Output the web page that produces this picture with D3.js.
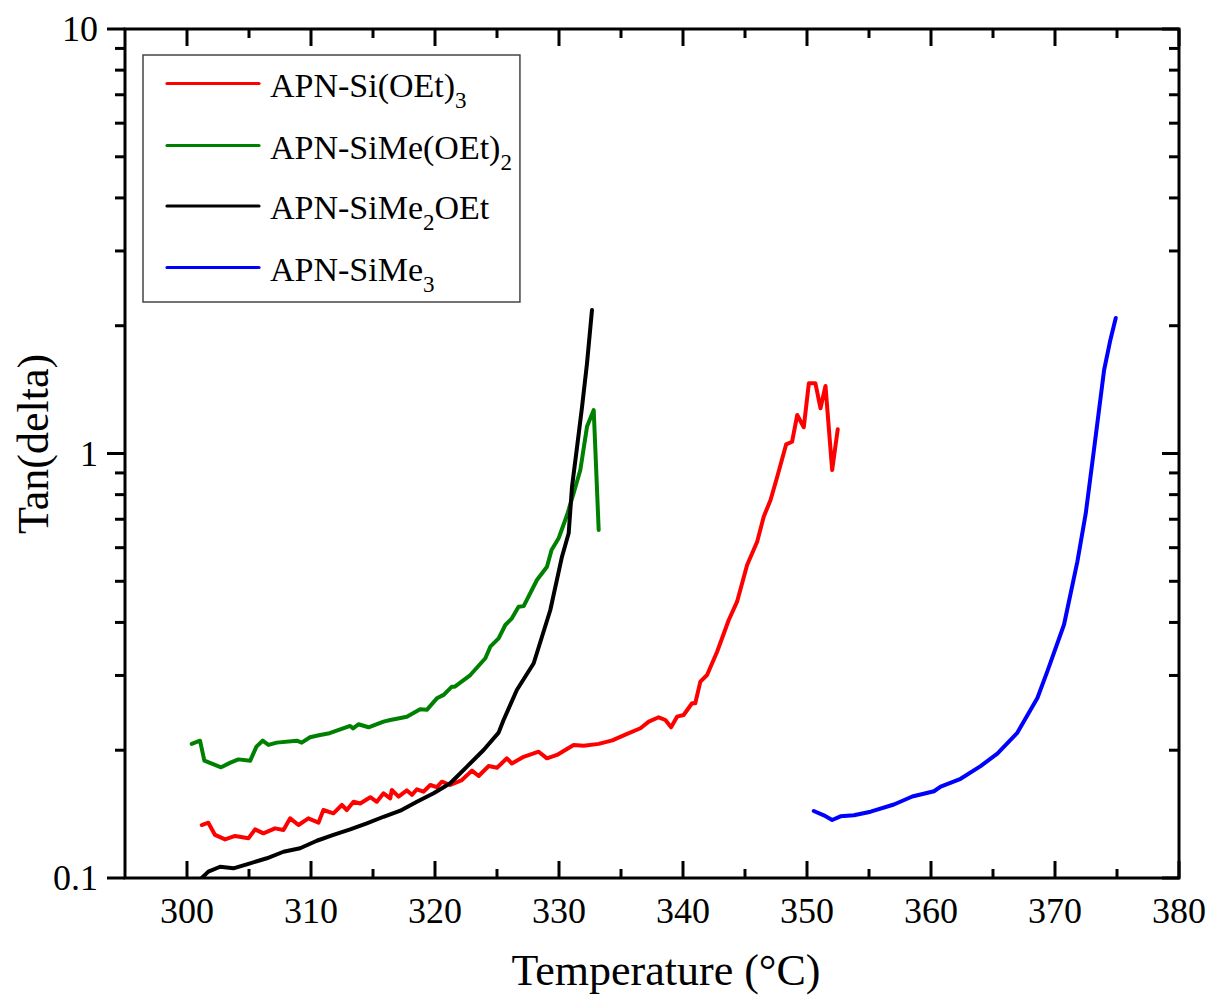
<!DOCTYPE html>
<html><head><meta charset="utf-8">
<script src="https://cdn.jsdelivr.net/npm/d3@7"></script>
<style>body{margin:0;background:#fff}svg{display:block}text{font-family:"Liberation Serif","Times New Roman",serif;fill:#000}</style>
</head><body><svg id="c" width="1211" height="1000"></svg>
<script>
// ---- data ----
const xTicks = [300,310,320,330,340,350,360,370,380];
const xMinor = [305,315,325,335,345,355,365,375];
const yTicks = [0.1,1,10];
const yTickLabels = ["0.1","1","10"];
const xTitle = "Temperature (°C)";
const yTitle = "Tan(delta)";
const seriesColors = ["#ff0000","#008000","#000000","#0000ff"];
const legendParts = [
  [["APN-Si(OEt)",0],["3",1]],
  [["APN-SiMe(OEt)",0],["2",1]],
  [["APN-SiMe",0],["2",1],["OEt",0]],
  [["APN-SiMe",0],["3",1]]
];
const redT = [301.19,301.72,302.26,303.07,303.88,304.95,305.49,306.16,307.1,307.78,308.32,308.99,309.79,310.6,311.0,311.81,312.49,312.89,313.43,313.97,314.78,315.31,315.85,316.39,316.52,317.06,317.73,318.14,318.54,319.08,319.62,320.15,320.56,321.23,322.17,322.98,323.52,324.33,325.0,325.8,326.2,327.15,328.36,329.03,329.84,331.18,331.99,333.2,334.3,335.4,336.57,337.24,338.04,338.58,339.04,339.52,340.05,340.73,340.99,341.4,341.94,342.75,343.69,344.36,345.17,345.98,346.51,347.06,347.6,348.32,348.8,349.21,349.74,350.15,350.68,351.09,351.49,352.03,352.48];
const redV = [0.1333,0.135,0.1263,0.1233,0.1256,0.124,0.1302,0.1274,0.1309,0.1297,0.1382,0.1333,0.1382,0.135,0.1446,0.142,0.1486,0.1446,0.1512,0.1498,0.155,0.1512,0.1583,0.1541,0.1612,0.1555,0.1608,0.157,0.1618,0.1597,0.1656,0.1637,0.1686,0.1656,0.1701,0.179,0.1739,0.1836,0.1819,0.1914,0.1861,0.193,0.1984,0.1914,0.1949,0.2058,0.205,0.207,0.211,0.218,0.2253,0.2335,0.2391,0.2356,0.2265,0.2399,0.2421,0.258,0.258,0.2901,0.3007,0.3413,0.4052,0.4477,0.5463,0.6198,0.7098,0.777,0.8817,1.051,1.066,1.232,1.153,1.463,1.463,1.278,1.442,0.9145,1.14];
const greenT = [300.38,301.05,301.4,302.75,303.5,304.15,305.1,305.6,306.1,306.57,307.24,308.85,309.25,309.92,310.73,311.5,313.16,313.4,313.83,314.64,315.85,316.4,317.73,318.8,319.34,320.15,320.7,321.36,321.6,322.85,324.06,324.46,325.13,325.67,326.2,326.74,327.15,328.22,329.03,329.4,329.97,330.65,331.18,331.72,332.26,332.8,333.2];
const greenV = [0.207,0.2106,0.189,0.1823,0.187,0.1903,0.189,0.2039,0.2106,0.2058,0.2084,0.2106,0.2084,0.2145,0.2172,0.2193,0.2281,0.2251,0.2302,0.2265,0.2335,0.2356,0.2399,0.2497,0.249,0.265,0.27,0.2823,0.2823,0.3007,0.3293,0.3507,0.367,0.3945,0.409,0.4355,0.437,0.5035,0.5412,0.5926,0.6316,0.7164,0.806,0.9145,1.157,1.266,0.6605];
const blackT = [301.19,301.72,302.67,303.74,305.09,306.44,307.78,309.12,310.47,311.81,313.16,314.5,315.85,317.2,318.54,319.89,321.23,322.58,323.92,325.13,325.53,326.6,327.96,329.3,330.24,330.78,331.05,331.46,331.86,332.26,332.66];
const blackV = [0.1,0.1035,0.1063,0.1054,0.1083,0.1113,0.1153,0.1175,0.1224,0.1263,0.1302,0.1345,0.1394,0.1441,0.1512,0.1583,0.1672,0.183,0.2002,0.22,0.2356,0.2773,0.3205,0.4279,0.5714,0.6486,0.8353,1.038,1.289,1.632,2.178];
const blueT = [350.55,351.36,352.03,352.7,353.78,355.13,357.01,358.49,360.24,360.78,362.39,364.0,365.35,366.96,368.58,369.39,370.73,371.8,372.48,373.15,373.96,374.44,374.9];
const blueV = [0.1438,0.1405,0.137,0.1397,0.1405,0.1433,0.149,0.1556,0.1601,0.1642,0.1713,0.1835,0.1964,0.2198,0.2655,0.3072,0.3955,0.5557,0.7226,1.025,1.573,1.838,2.085];
const seriesT = [redT, greenT, blackT, blueT];
const seriesV = [redV, greenV, blackV, blueV];

// ---- chart ----
const svg = d3.select("#c");
const L = 125, R = 1179, T = 29, B = 878;
const x = d3.scaleLinear().domain([295,380]).range([L,R]);
const y = d3.scaleLog().domain([0.1,10]).range([B,T]);
const yMinor = [];
[0.1,1].forEach(d => { for (let k=2;k<=9;k++) yMinor.push(+(d*k).toFixed(2)); });

svg.append("clipPath").attr("id","pc").append("rect")
  .attr("x",L).attr("y",T).attr("width",R-L).attr("height",B-T);

const line = d3.line().x(d=>x(d[0])).y(d=>y(d[1]));
const gLines = svg.append("g").attr("clip-path","url(#pc)");
seriesT.forEach((ts,i)=>{
  const pts = ts.map((t,j)=>[t, seriesV[i][j]]);
  gLines.append("path").datum(pts).attr("d",line)
    .attr("fill","none").attr("stroke",seriesColors[i])
    .attr("stroke-width",4).attr("stroke-linejoin","round").attr("stroke-linecap","round");
});

// axes
const ax = svg.append("g").attr("stroke","#000").attr("stroke-width",3).attr("fill","none");
ax.append("rect").attr("x",L).attr("y",T).attr("width",R-L).attr("height",B-T);
xTicks.forEach(t=>{
  ax.append("line").attr("x1",x(t)).attr("x2",x(t)).attr("y1",B).attr("y2",B-17);
  ax.append("line").attr("x1",x(t)).attr("x2",x(t)).attr("y1",T).attr("y2",T+17);
});
xMinor.forEach(t=>{
  ax.append("line").attr("x1",x(t)).attr("x2",x(t)).attr("y1",B).attr("y2",B-9);
  ax.append("line").attr("x1",x(t)).attr("x2",x(t)).attr("y1",T).attr("y2",T+9);
});
yTicks.forEach(t=>{
  ax.append("line").attr("x1",L).attr("x2",L-18).attr("y1",y(t)).attr("y2",y(t));
  ax.append("line").attr("x1",R).attr("x2",R-17).attr("y1",y(t)).attr("y2",y(t));
});
yMinor.forEach(t=>{
  ax.append("line").attr("x1",L).attr("x2",L-10).attr("y1",y(t)).attr("y2",y(t));
  ax.append("line").attr("x1",R).attr("x2",R-10).attr("y1",y(t)).attr("y2",y(t));
});

// tick labels
svg.append("g").selectAll("text").data(xTicks).join("text")
  .attr("x",d=>x(d)).attr("y",923).attr("text-anchor","middle")
  .attr("font-size",36).text(d=>d);
svg.append("g").selectAll("text").data(yTicks).join("text")
  .attr("x",98).attr("y",d=>y(d)+12).attr("text-anchor","end")
  .attr("font-size",36).text((d,i)=>yTickLabels[i]);

// titles
svg.append("text").attr("x",666).attr("y",985).attr("text-anchor","middle")
  .attr("font-size",44).text(xTitle);
svg.append("text").attr("transform","translate(48,444) rotate(-90)")
  .attr("text-anchor","middle").attr("font-size",44).text(yTitle);

// legend
const lg = svg.append("g");
const box = lg.append("rect").attr("x",143).attr("y",55).attr("height",247)
  .attr("fill","#fff").attr("stroke","#444").attr("stroke-width",1.5);
const rowY = [83.5,145.5,206,267.5];
let maxEnd = 0;
legendParts.forEach((parts,i)=>{
  lg.append("line").attr("x1",167).attr("x2",259).attr("y1",rowY[i]).attr("y2",rowY[i])
    .attr("stroke",seriesColors[i]).attr("stroke-width",3.2).attr("stroke-linecap","round");
  const tx = lg.append("text").attr("x",270).attr("y",rowY[i]+13).attr("font-size",34);
  let sub = false;
  parts.forEach(([s,isSub])=>{
    const ts = tx.append("tspan").text(s);
    if (isSub) { ts.attr("font-size",23).attr("dy",11); sub = true; }
    else if (sub) { ts.attr("dy",-11); sub = false; }
  });
  const bb = tx.node().getBBox();
  maxEnd = Math.max(maxEnd, bb.x + bb.width);
});
box.attr("width", maxEnd + 8 - 143);
</script></body></html>
